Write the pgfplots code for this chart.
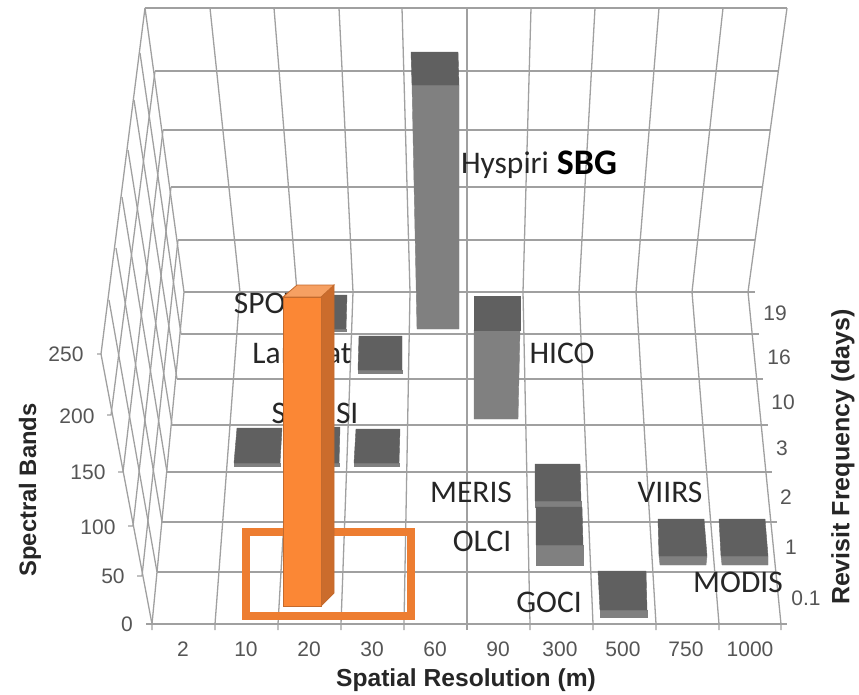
\documentclass[border=0pt]{standalone}
\usepackage{pgfplots}
\usepackage{fontspec}
\pgfplotsset{compat=1.18}
\setmainfont{Liberation Sans}
\newfontfamily\callout{Carlito}
\definecolor{gridgrey}{HTML}{A0A0A0}
\definecolor{ticktext}{HTML}{555555}
\definecolor{bartop}{HTML}{606060}
\definecolor{barfront}{HTML}{808080}
\definecolor{orfront}{HTML}{FB8735}
\definecolor{orside}{HTML}{CB6C2C}
\definecolor{ortop}{HTML}{F6A062}
\definecolor{oredge}{HTML}{C46A2C}
\definecolor{orbox}{HTML}{ED7D31}
\newcommand{\gl}[1]{\addplot[gridgrey,line width=1.3pt,forget plot] coordinates {#1};}
\newcommand{\face}[2]{\addplot[fill=#1,draw=#1,line width=0.4pt,forget plot] coordinates {#2} -- cycle;}
\newcommand{\ticklab}[3]{\node[text=ticktext,font=\fontsize{21}{24}\selectfont,anchor=center,inner sep=0pt] at (axis cs:#1,#2) {#3};}
\newcommand{\callab}[3]{\node[text=black!85,font=\fontsize{31.5}{34}\callout,anchor=center,inner sep=0pt] at (axis cs:#1,#2) {#3};}
\begin{document}
\begin{tikzpicture}
\begin{axis}[
  scale only axis,width=859pt,height=694pt,
  xmin=0,xmax=859,ymin=0,ymax=694,y dir=reverse,
  hide axis,clip=false]
% the frame of the page
\path (axis cs:0,0) rectangle (axis cs:859,694);
% back wall: horizontal levels
\gl{(184,292) (755,292)}
\gl{(178,240) (755,240)}
\gl{(171,187) (762,187)}
\gl{(163,130) (770,130)}
\gl{(155,71) (779,71)}
\gl{(145,8) (787,8)}
% floor: horizontal levels
\gl{(181,334) (759,334)}
\gl{(177,379) (763,379)}
\gl{(172,425) (768,425)}
\gl{(167,472) (772,472)}
\gl{(162,522) (777,522)}
\gl{(157,572) (776,572)}
\gl{(146,624) (787,624)}
% columns running across the floor and up the back wall
\gl{(152,630) (152,624) (184,292) (145,8)}
\gl{(215,630) (215,624) (240,292) (210,8)}
\gl{(278,630) (278,624) (297,292) (274,8)}
\gl{(341,630) (341,624) (353,292) (339,8)}
\gl{(404,630) (404,624) (410,292) (402,8)}
\gl{(467,630) (467,624) (467,292) (467,8)}
\gl{(530,630) (530,624) (523,292) (531,8)}
\gl{(593,630) (593,624) (579,292) (595,8)}
\gl{(656,630) (656,624) (636,292) (659,8)}
\gl{(719,630) (719,624) (692,292) (723,8)}
\gl{(781,630) (781,624) (748,292) (787,8)}
% side wall: band levels
\gl{(97,354) (101,354) (145,8)}
\gl{(107,415) (111,415) (155,71)}
\gl{(118,472) (123,472) (163,130)}
\gl{(128,526) (133,526) (171,187)}
\gl{(137,576) (142,576) (178,240)}
% side wall: revisit columns
\gl{(101,354) (152,624)}
\gl{(109,300) (157,572)}
\gl{(116,248) (162,522)}
\gl{(122,197) (167,472)}
\gl{(128,150) (172,425)}
\gl{(134,100) (177,379)}
\gl{(140,53) (181,334)}
% tick labels
\ticklab{183}{649}{2}
\ticklab{246}{649}{10}
\ticklab{309}{649}{20}
\ticklab{372}{649}{30}
\ticklab{435}{649}{60}
\ticklab{498}{649}{90}
\ticklab{560}{649}{300}
\ticklab{623}{649}{500}
\ticklab{686}{649}{750}
\ticklab{750}{649}{1000}
\ticklab{66}{354}{250}
\ticklab{77}{416}{200}
\ticklab{88}{472}{150}
\ticklab{98}{527}{100}
\ticklab{113}{576}{50}
\ticklab{127}{624}{0}
\ticklab{775}{313}{19}
\ticklab{779}{357}{16}
\ticklab{783}{402}{10}
\ticklab{782}{448}{3}
\ticklab{786}{497}{2}
\ticklab{791}{547}{1}
\ticklab{806}{598}{0.1}
% axis titles
\node[font=\fontsize{23.8}{26}\selectfont\bfseries,text=black!85,rotate=90,anchor=center,inner sep=0pt] at (axis cs:30,490) {Spectral Bands};
\node[font=\fontsize{24.6}{27}\selectfont\bfseries,text=black!85,anchor=center,inner sep=0pt] at (axis cs:466,680) {Spatial Resolution (m)};
\node[font=\fontsize{25}{28}\selectfont\bfseries,text=black!85,rotate=90,anchor=center,inner sep=0pt] at (axis cs:843,457) {Revisit Frequency (days)};
% sensor labels
\callab{505}{165}{Hyspiri}
\node[font=\fontsize{36}{38}\callout\bfseries,text=black,anchor=center,inner sep=0pt] at (axis cs:587,163) {SBG};
\callab{267}{303}{SPOT}
\callab{302}{353}{Landsat}
\callab{315}{413}{S2 MSI}
\callab{562}{353}{HICO}
\callab{471}{492}{MERIS}
\callab{482}{541}{OLCI}
\callab{549}{602}{GOCI}
\callab{670}{492}{VIIRS}
\callab{738}{582}{MODIS}
% Hyspiri
\face{barfront}{(412,85) (459,85) (459,329) (417,329)}
\face{bartop}{(411,52) (458,52) (459,85) (412,85)}
% HICO
\face{barfront}{(474,330) (520,330) (518,419) (474,419)}
\face{bartop}{(474,296) (520,296) (520,330) (474,330)}
% SPOT
\face{barfront}{(302,329) (346,329) (346,331) (302,331)}
\face{bartop}{(302,295) (347,295) (346,329) (302,329)}
% Landsat
\face{barfront}{(358,370) (402,370) (402,373) (358,373)}
\face{bartop}{(359,336) (402,336) (402,370) (358,370)}
% S2 MSI, three sites
\face{barfront}{(234,463) (280,463) (280,466) (234,466)}
\face{bartop}{(237,428) (282,428) (280,463) (234,463)}
\face{barfront}{(294,463) (339,463) (339,466) (294,466)}
\face{bartop}{(296,427) (340,427) (339,463) (294,463)}
\face{barfront}{(354,463) (399,463) (399,466) (354,466)}
\face{bartop}{(356,429) (400,429) (399,463) (354,463)}
% MERIS
\face{barfront}{(535,501) (581,501) (581,507) (535,507)}
\face{bartop}{(535,464) (580,464) (581,501) (535,501)}
% OLCI
\face{barfront}{(536,545) (583,545) (583,565) (536,565)}
\face{bartop}{(536,507) (582,507) (583,545) (536,545)}
% GOCI
\face{barfront}{(600,610) (647,610) (647,617) (600,617)}
\face{bartop}{(598,571) (646,571) (647,610) (600,610)}
% VIIRS
\face{barfront}{(659,556) (707,556) (706,565) (660,565)}
\face{bartop}{(658,519) (704,519) (707,556) (659,556)}
% MODIS
\face{barfront}{(721,556) (768,556) (768,565) (722,565)}
\face{bartop}{(719,519) (765,519) (768,556) (721,556)}
% highlight frame and the SBG column
\addplot[orbox,line width=8pt,forget plot] coordinates {(246,532) (411,532) (411,616) (246,616)} -- cycle;
\addplot[fill=orside,draw=oredge,line width=0.8pt,forget plot] coordinates {(321,297) (334,285) (334,593) (321,606)} -- cycle;
\addplot[fill=ortop,draw=oredge,line width=0.8pt,forget plot] coordinates {(283,297) (297,285) (334,285) (321,297)} -- cycle;
\addplot[fill=orfront,draw=oredge,line width=0.8pt,forget plot] coordinates {(283,297) (321,297) (321,606) (283,606)} -- cycle;
\end{axis}
\end{tikzpicture}
\end{document}
